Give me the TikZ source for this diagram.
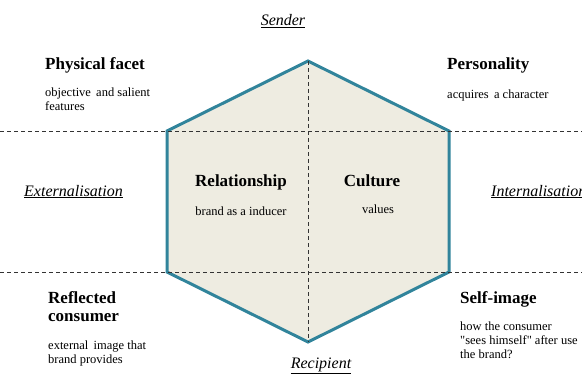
\documentclass[tikz,border=0pt]{standalone}
\usepackage{fontspec}
\setmainfont{Liberation Serif}
\usepackage{tikz}

\definecolor{prismfill}{HTML}{EEECE1}
\definecolor{prismedge}{HTML}{31849B}

\begin{document}
\begin{tikzpicture}[x=1pt,y=1pt,
  facet/.style={font=\fontsize{17}{18}\selectfont\bfseries, inner sep=0, anchor=base west, align=left},
  note/.style={font=\fontsize{12.5}{14}\selectfont, inner sep=0, anchor=base west, align=left},
  axislabel/.style={font=\fontsize{16}{18}\selectfont\itshape, inner sep=0, anchor=base},
  divider/.style={black!80, line width=0.8pt, dash pattern=on 4pt off 3pt}]
\useasboundingbox (0,0) rectangle (582,376);
\clip (0,0) rectangle (582,376);
% hexagon
\coordinate (top) at (308,315);
\coordinate (ur) at (449,245);
\coordinate (lr) at (449,104);
\coordinate (bot) at (308,34);
\coordinate (ll) at (167,104);
\coordinate (ul) at (167,245);
\fill[prismfill] (top) -- (ur) -- (lr) -- (bot) -- (ll) -- (ul) -- cycle;
\draw[prismedge, line width=3pt, line join=miter] (top) -- (ur) -- (lr) -- (bot) -- (ll) -- (ul) -- cycle;
% dividing lines
\coordinate (westhi) at (0,245);
\coordinate (easthi) at (582,245);
\coordinate (westlo) at (0,104);
\coordinate (eastlo) at (582,104);
\draw[divider] (westhi) -- (easthi);
\draw[divider] (westlo) -- (eastlo);
\draw[divider] (top) -- (bot);
% axes
\node[axislabel] (sender) at (283,350) {\underline{Sender}};
\node[axislabel] (recipient) at (321,8) {\underline{Recipient}};
\node[axislabel, anchor=base west] (external) at (24,180) {\underline{Externalisation}};
\node[axislabel, anchor=base west] (internal) at (491,180) {\underline{Internalisation}};
% facets (multi-line nodes sit on their last line)
\node[facet] (physical) at (45,307) {Physical facet};
\node[note] (physicalnote) at (45,266) {objective\, and salient\\features};
\node[facet] (personality) at (447,307) {Personality};
\node[note] (personalitynote) at (447,278) {acquires\, a character};
\node[facet, anchor=base] (relationship) at (241,190) {Relationship};
\node[note, anchor=base] (relationshipnote) at (241,161) {brand as a inducer};
\node[facet, anchor=base] (culture) at (372,190) {Culture};
\node[note, anchor=base] (culturenote) at (378,163) {values};
\node[facet] (reflected) at (48,55) {Reflected\\consumer};
\node[note] (reflectednote) at (48,13) {external\, image that\\brand provides};
\node[facet] (selfimage) at (460,73) {Self-image};
\node[note] (selfimagenote) at (460,18) {how the consumer\\{\addfontfeature{Ligatures=TeXOff}"sees himself"} after use\\the brand?};
\end{tikzpicture}
\end{document}
